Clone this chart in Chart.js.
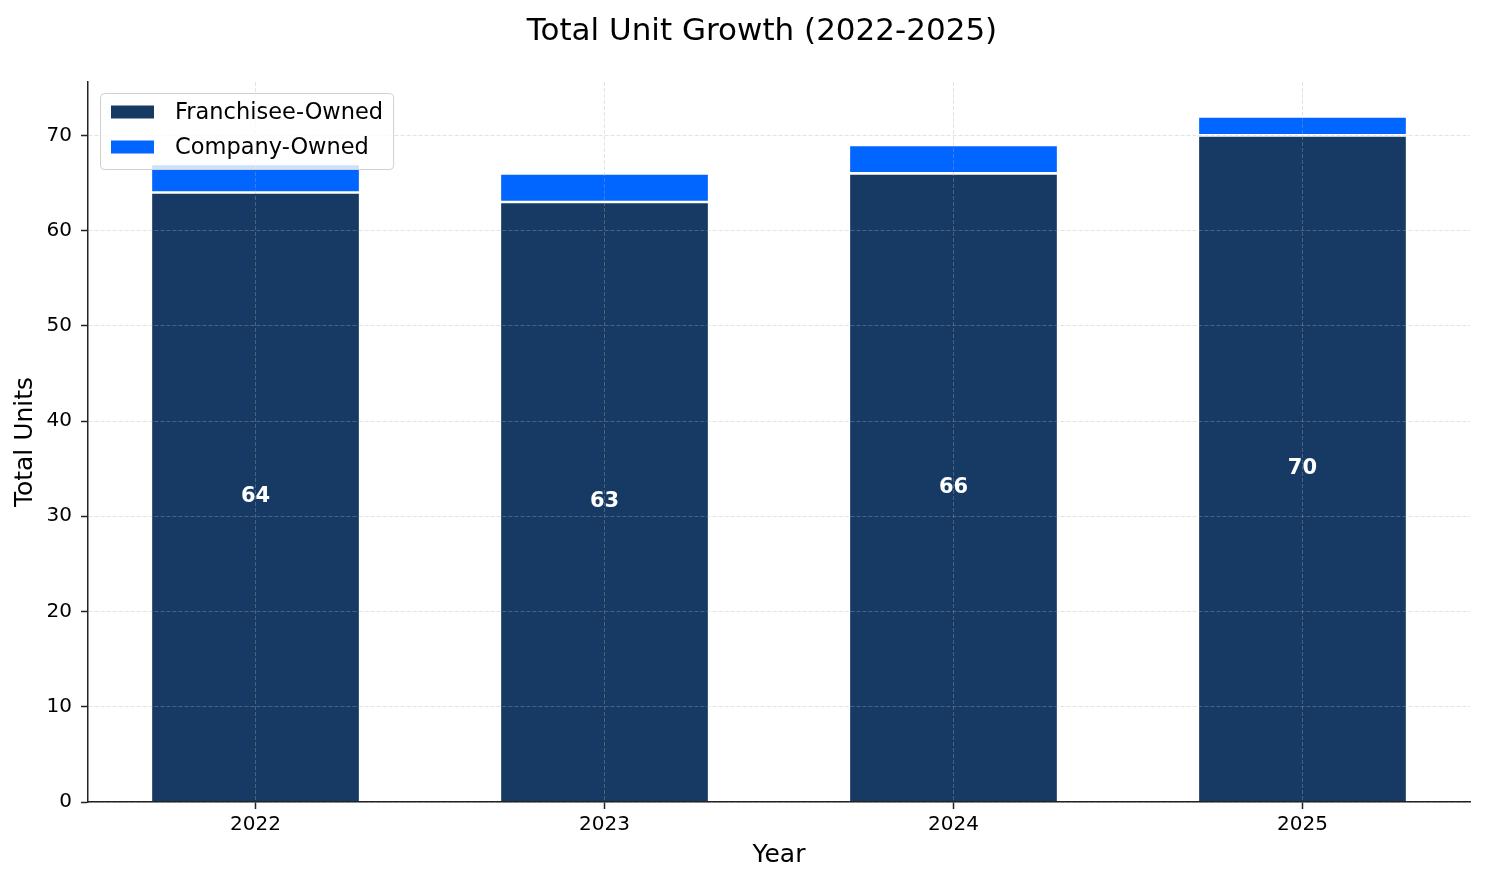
<!DOCTYPE html>
<html><head><meta charset="utf-8">
<script src="https://cdn.jsdelivr.net/npm/chart.js@4.4.1/dist/chart.umd.min.js"></script>
<style>html,body{margin:0;padding:0;background:#fff;overflow:hidden}#wrap{width:1485px;height:884px;position:relative}</style>
</head><body><div id="wrap"><canvas id="c" width="1485" height="884"></canvas></div>
<script>
const years = ['2022', '2023', '2024', '2025'];
const franchiseeOwned = [64, 63, 66, 70];
const companyOwned = [3, 3, 3, 2];
const yTicks = [0, 10, 20, 30, 40, 50, 60, 70];
const seriesLabels = ['Franchisee-Owned', 'Company-Owned'];
const seriesColors = ['#163A63', '#0066FF'];
const titleText = 'Total Unit Growth (2022-2025)';
const xTitle = 'Year';
const yTitle = 'Total Units';

const FAM = '"DejaVu Sans", sans-serif';
const gridColor = 'rgba(176,176,176,0.35)';

const extras = {
  id: 'extras',
  afterDraw(chart) {
    const ctx = chart.ctx, ca = chart.chartArea;
    ctx.save();
    // bar value labels
    const meta = chart.getDatasetMeta(0);
    ctx.font = 'bold 21px ' + FAM;
    ctx.fillStyle = '#ffffff';
    ctx.textAlign = 'center';
    ctx.textBaseline = 'middle';
    meta.data.forEach((el, i) => {
      ctx.fillText(String(franchiseeOwned[i]), el.x, (el.y + el.base) / 2);
    });
    // title
    ctx.font = '31px ' + FAM;
    ctx.fillStyle = '#000';
    ctx.textBaseline = 'alphabetic';
    ctx.fillText(titleText, 762, 39.5);
    // legend
    ctx.font = '22.5px ' + FAM;
    const ds = chart.data.datasets;
    const maxW = Math.max(...ds.map(d => ctx.measureText(d.label).width));
    const fx = ca.left + 12, fy = ca.top + 11;
    const fw = 75 + maxW + 10, fh = 76;
    ctx.beginPath();
    ctx.roundRect(fx + 0.5, fy + 0.5, fw, fh, 4);
    ctx.fillStyle = 'rgba(255,255,255,0.8)';
    ctx.fill();
    ctx.strokeStyle = '#d0d0d0';
    ctx.lineWidth = 1;
    ctx.stroke();
    ds.forEach((d, i) => {
      const cy = fy + 19 + i * 35;
      ctx.fillStyle = d.backgroundColor;
      ctx.fillRect(fx + 11, cy - 6.5, 43, 13);
      ctx.fillStyle = '#000';
      ctx.textAlign = 'left';
      ctx.textBaseline = 'middle';
      ctx.fillText(d.label, fx + 75, cy + 1);
    });
    ctx.restore();
  }
};

const mkData = arr => arr.map((v, i) => ({ x: i, y: v }));

new Chart(document.getElementById('c'), {
  type: 'bar',
  data: {
    datasets: [
      { label: seriesLabels[0], data: mkData(franchiseeOwned), backgroundColor: seriesColors[0],
        borderColor: '#ffffff', borderWidth: 1.35, borderSkipped: 'start', inflateAmount: 0,
        barPercentage: 0.6, categoryPercentage: 1 },
      { label: seriesLabels[1], data: mkData(companyOwned), backgroundColor: seriesColors[1],
        borderColor: '#ffffff', borderWidth: 1.35, borderSkipped: false, inflateAmount: 0,
        barPercentage: 0.6, categoryPercentage: 1 }
    ]
  },
  options: {
    responsive: false,
    animation: false,
    devicePixelRatio: 1,
    layout: { padding: { top: 82, right: 15, left: 0, bottom: 0 } },
    plugins: { legend: { display: false }, title: { display: false }, tooltip: { enabled: false } },
    scales: {
      x: {
        type: 'linear', stacked: true, min: -0.48, max: 3.48, offset: false,
        afterBuildTicks: s => { s.ticks = years.map((_, i) => ({ value: i })); },
        afterFit: s => { s.height = 82; },
        ticks: { z: 3, callback: v => years[v], color: '#000', font: { family: FAM, size: 20 }, padding: 4, autoSkip: false, maxRotation: 0 },
        grid: { z: 1, offset: false, color: gridColor, lineWidth: 1, tickLength: 7, tickColor: '#222', tickWidth: 1.5 },
        border: { z: 2, display: true, color: '#222', width: 1.5, dash: [4, 2] },
        title: { display: true, text: xTitle, color: '#000', font: { family: FAM, size: 25 }, padding: { top: 0, bottom: 14 } }
      },
      y: {
        stacked: true, min: 0, max: 75.6,
        afterBuildTicks: s => { s.ticks = yTicks.map(v => ({ value: v })); },
        afterFit: s => { s.width = 88; },
        ticks: { z: 3, color: '#000', font: { family: FAM, size: 20 }, padding: 9 },
        grid: { z: 1, color: gridColor, lineWidth: 1, tickLength: 7, tickColor: '#222', tickWidth: 1.5 },
        border: { z: 2, display: true, color: '#222', width: 1.5, dash: [4, 2] },
        title: { display: true, text: yTitle, color: '#000', font: { family: FAM, size: 25 }, padding: { top: 10, bottom: 0 } }
      }
    }
  },
  plugins: [extras]
});
</script></body></html>
